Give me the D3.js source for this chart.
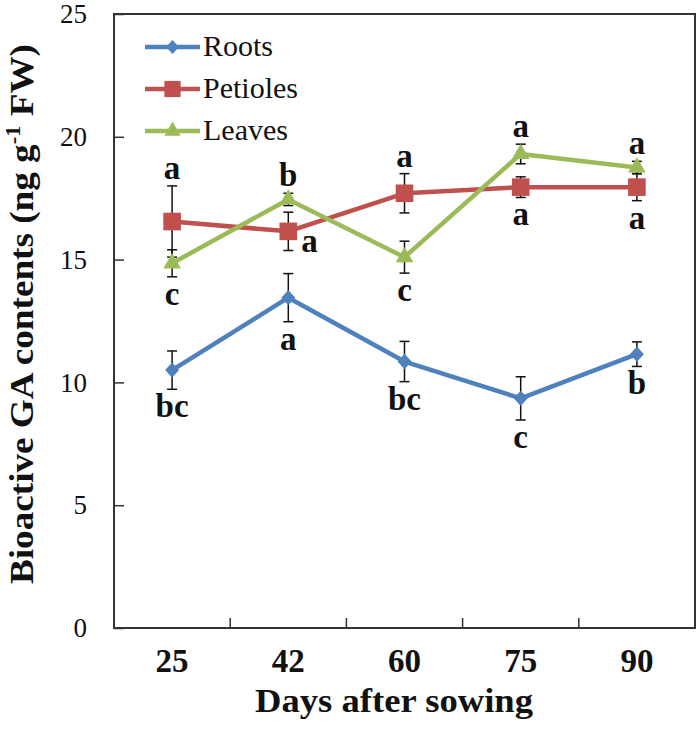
<!DOCTYPE html>
<html>
<head>
<meta charset="utf-8">
<script src="https://cdn.jsdelivr.net/npm/d3@7"></script>
<style>
  body { margin: 0; background: #fff; }
  svg text { font-family: "Liberation Serif", "Times New Roman", "DejaVu Serif", serif; }
</style>
</head>
<body>
<div id="chart"></div>
<script>
// Data
var days = ["25", "42", "60", "75", "90"];
var seriesNames = ["Roots", "Petioles", "Leaves"];
var rootsMean = [10.5, 13.45, 10.85, 9.35, 11.15];
var rootsErr = [0.78, 0.98, 0.82, 0.88, 0.5];
var petiolesMean = [16.55, 16.15, 17.7, 17.95, 17.95];
var petiolesErr = [1.45, 0.78, 0.8, 0.42, 0.55];
var leavesMean = [14.85, 17.45, 15.1, 19.3, 18.75];
var leavesErr = [0.55, 0.25, 0.65, 0.4, 0.25];
var rootsLetters = ["bc", "a", "bc", "c", "b"];
var petiolesLetters = ["a", "a", "a", "a", "a"];
var leavesLetters = ["c", "b", "c", "a", "a"];
var rootsSide = ["below", "below", "below", "below", "below"];
var petiolesSide = ["above", "right", "above", "below", "below"];
var leavesSide = ["below", "above", "below", "above", "above"];
var yTicks = [0, 5, 10, 15, 20, 25];

var width = 700,
    height = 729;
var margin = {top: 14, right: 5, bottom: 101, left: 114};

var svg = d3.select("#chart").append("svg")
    .attr("width", width)
    .attr("height", height);

var x = d3.scaleBand()
    .domain(days)
    .range([margin.left, width - margin.right])
    .padding(0);
var y = d3.scaleLinear()
    .domain([0, 25])
    .range([height - margin.bottom, margin.top]);

var cx = function(d) { return x(d) + x.bandwidth() / 2; };

var series = [
  {name: seriesNames[0], mean: rootsMean, err: rootsErr, letters: rootsLetters, side: rootsSide, color: "#4F81BD", symbol: d3.symbolDiamond2, size: 125, sy: 1.1},
  {name: seriesNames[1], mean: petiolesMean, err: petiolesErr, letters: petiolesLetters, side: petiolesSide, color: "#C0504D", symbol: d3.symbolSquare, size: 310, sy: 1},
  {name: seriesNames[2], mean: leavesMean, err: leavesErr, letters: leavesLetters, side: leavesSide, color: "#9BBB59", symbol: d3.symbolTriangle, size: 135, sy: 1}
];

// Axes
var yAxis = svg.append("g")
    .attr("transform", "translate(" + margin.left + ",0)")
    .call(d3.axisLeft(y).tickValues(yTicks).tickSizeInner(-10).tickSizeOuter(0).tickPadding(27));
yAxis.select(".domain").remove();
yAxis.selectAll("line").attr("stroke", "#333").attr("stroke-width", 1.5);
yAxis.selectAll("text")
    .attr("font-size", 27)
    .attr("fill", "#111");

var xAxis = svg.append("g")
    .attr("transform", "translate(0," + y(0) + ")")
    .call(d3.axisBottom(x).tickSize(0).tickPadding(21));
xAxis.select(".domain").remove();
xAxis.selectAll("text")
    .attr("font-size", 33)
    .attr("font-weight", "bold")
    .attr("fill", "#111");

// x ticks between categories, pointing up
svg.append("g").selectAll("line")
    .data(days.slice(1))
    .enter().append("line")
    .attr("x1", function(d) { return x(d); })
    .attr("x2", function(d) { return x(d); })
    .attr("y1", y(0))
    .attr("y2", y(0) - 10)
    .attr("stroke", "#333")
    .attr("stroke-width", 1.5);

// plot frame
svg.append("rect")
    .attr("x", margin.left)
    .attr("y", margin.top)
    .attr("width", width - margin.right - margin.left)
    .attr("height", y(0) - margin.top)
    .attr("fill", "none")
    .attr("stroke", "#333")
    .attr("stroke-width", 2);

// Axis titles
svg.append("text")
    .attr("x", 394)
    .attr("y", 712)
    .attr("text-anchor", "middle")
    .attr("font-size", 33)
    .attr("font-weight", "bold")
    .attr("fill", "#111")
    .attr("textLength", 278)
    .attr("lengthAdjust", "spacingAndGlyphs")
    .text("Days after sowing");

var yTitle = svg.append("text")
    .attr("transform", "translate(33,314) rotate(-90)")
    .attr("text-anchor", "middle")
    .attr("font-size", 33)
    .attr("font-weight", "bold")
    .attr("fill", "#111")
    .attr("textLength", 540)
    .attr("lengthAdjust", "spacingAndGlyphs");
yTitle.append("tspan").text("Bioactive GA contents (ng g");
yTitle.append("tspan").attr("font-size", 20).attr("dy", -13).text("-1");
yTitle.append("tspan").attr("dy", 13).text(" FW)");

// Lines, error bars, markers
var line = d3.line()
    .x(function(d) { return cx(d.day); })
    .y(function(d) { return y(d.v); });

series.forEach(function(s) {
  var pts = days.map(function(d, i) {
    return {day: d, v: s.mean[i], e: s.err[i], letter: s.letters[i], side: s.side[i]};
  });
  var g = svg.append("g").attr("class", "series");

  var eb = g.selectAll(".err").data(pts).enter().append("g").attr("class", "err")
      .attr("stroke", "#111").attr("stroke-width", 1.5);
  eb.append("line")
      .attr("x1", function(d) { return cx(d.day); })
      .attr("x2", function(d) { return cx(d.day); })
      .attr("y1", function(d) { return y(d.v + d.e); })
      .attr("y2", function(d) { return y(d.v - d.e); });
  eb.append("line")
      .attr("x1", function(d) { return cx(d.day) - 5; })
      .attr("x2", function(d) { return cx(d.day) + 5; })
      .attr("y1", function(d) { return y(d.v + d.e); })
      .attr("y2", function(d) { return y(d.v + d.e); });
  eb.append("line")
      .attr("x1", function(d) { return cx(d.day) - 5; })
      .attr("x2", function(d) { return cx(d.day) + 5; })
      .attr("y1", function(d) { return y(d.v - d.e); })
      .attr("y2", function(d) { return y(d.v - d.e); });

  g.append("path")
      .datum(pts)
      .attr("fill", "none")
      .attr("stroke", s.color)
      .attr("stroke-width", 4.5)
      .attr("stroke-linejoin", "round")
      .attr("d", line);

  g.selectAll(".mark").data(pts).enter().append("path")
      .attr("class", "mark")
      .attr("transform", function(d) { return "translate(" + cx(d.day) + "," + y(d.v) + ") scale(1," + s.sy + ")"; })
      .attr("d", d3.symbol().type(s.symbol).size(s.size))
      .attr("fill", s.color);

  // significance letters
  g.selectAll(".letter").data(pts).enter().append("text")
      .attr("class", "letter")
      .attr("font-size", 33)
      .attr("font-weight", "bold")
      .attr("fill", "#111")
      .attr("text-anchor", function(d) { return d.side === "right" ? "start" : "middle"; })
      .attr("x", function(d) { return d.side === "right" ? cx(d.day) + 13 : cx(d.day); })
      .attr("y", function(d) {
        if (d.side === "above") return y(d.v + d.e) - 7;
        if (d.side === "right") return y(d.v - d.e) + 1;
        return y(d.v - d.e) + 28;
      })
      .text(function(d) { return d.letter; });
});

// Legend
var legend = svg.append("g").attr("class", "legend");
var rows = legend.selectAll("g").data(series).enter().append("g")
    .attr("transform", function(d, i) { return "translate(145," + (47 + i * 42) + ")"; });
rows.append("line")
    .attr("x1", 0).attr("x2", 55)
    .attr("stroke", function(d) { return d.color; })
    .attr("stroke-width", 4.5);
rows.append("path")
    .attr("transform", function(d) { return "translate(27.5,0) scale(1," + d.sy + ")"; })
    .attr("d", function(d) { return d3.symbol().type(d.symbol).size(d.size * 0.85)(); })
    .attr("fill", function(d) { return d.color; });
rows.append("text")
    .attr("x", 58)
    .attr("y", 9)
    .attr("font-size", 30)
    .attr("fill", "#111")
    .text(function(d) { return d.name; });
</script>
</body>
</html>
